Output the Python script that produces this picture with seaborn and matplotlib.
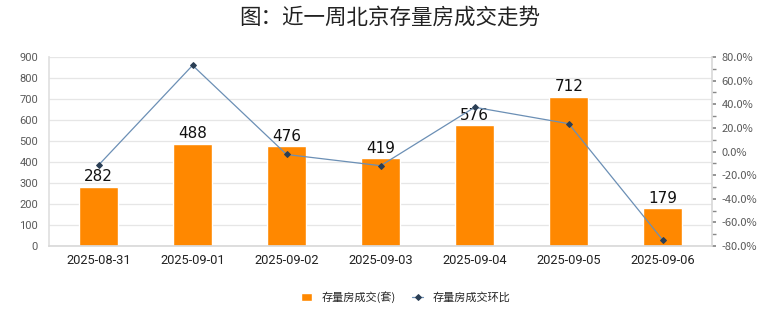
import matplotlib
matplotlib.use("Agg")
import matplotlib.pyplot as plt
import seaborn as sns
import pandas as pd
from matplotlib.ticker import FuncFormatter, MultipleLocator

dates = ["2025-08-31", "2025-09-01", "2025-09-02", "2025-09-03", "2025-09-04", "2025-09-05", "2025-09-06"]
volume = [282, 488, 476, 419, 576, 712, 179]
mom_pct = [-11.5, 73.0, -2.5, -12.0, 37.5, 23.6, -74.9]
bar_label = "存量房成交(套)"
line_label = "存量房成交环比"
title = "图：近一周北京存量房成交走势"

sns.set_theme(style="white")
plt.rcParams['font.family'] = ['Noto Sans CJK SC', 'DejaVu Sans']

df = pd.DataFrame({"date": dates, "volume": volume, "mom": mom_pct})

fig = plt.figure(figsize=(7.8, 3.28), dpi=100)
ax = fig.add_axes([0.063, 0.25, 0.85, 0.576])

sns.barplot(data=df, x="date", y="volume", color="#FF8800", saturation=1,
            width=0.41, ax=ax, label=bar_label, zorder=2)
if ax.get_legend() is not None:
    ax.get_legend().remove()
ax.set_ylim(0, 900)
ax.yaxis.set_major_locator(MultipleLocator(100))
ax.grid(axis="y", color="#e6e6e6", linewidth=0.9, zorder=0)
ax.set_axisbelow(True)
ax.set_xlabel("")
ax.set_ylabel("")
for s in ["top", "right"]:
    ax.spines[s].set_visible(False)
ax.spines["left"].set_color("#e0e0e0")
ax.spines["bottom"].set_color("#d9d9d9")
ax.tick_params(axis="y", labelsize=8, colors="#595959", length=0, pad=8)
ax.tick_params(axis="x", labelsize=9.3, colors="#222222", length=0, pad=6)
for lbl in ax.get_yticklabels():
    lbl.set_family(["Roboto", "DejaVu Sans"])
for lbl in ax.get_xticklabels():
    lbl.set_family(["Roboto", "DejaVu Sans"])
for p, v in zip(ax.patches, volume):
    ax.text(p.get_x() + p.get_width() / 2, v + 12, str(v), ha="center", va="bottom",
            fontsize=11, color="#111111", family=["DejaVu Sans"], zorder=5)

ax2 = ax.twinx()
sns.lineplot(data=df, x="date", y="mom", ax=ax2, color="#6b8fb5", linewidth=0.9,
             marker="D", markersize=3, markerfacecolor="#2b3f55", markeredgecolor="#2b3f55",
             label=line_label, legend=False, zorder=4)
ax2.set_ylim(-80, 80)
ax2.yaxis.set_major_locator(MultipleLocator(20))
ax2.yaxis.set_minor_locator(MultipleLocator(10))
ax2.yaxis.set_major_formatter(FuncFormatter(lambda v, p: f"{v:.1f}%"))
ax2.set_ylabel("")
ax2.set_xlabel("")
for s in ["top", "left", "bottom"]:
    ax2.spines[s].set_visible(False)
ax2.spines["right"].set_color("#d9d9d9")
ax2.tick_params(axis="y", which="both", direction="out", length=3, color="#888888",
                labelsize=8, labelcolor="#595959", pad=4)
ax2.grid(False)

fig.text(0.5, 0.945, title, fontsize=15.5, color="#222222", ha="center", va="center")

h1, l1 = ax.get_legend_handles_labels()
h2, l2 = ax2.get_legend_handles_labels()
fig.legend(h1[:1] + h2[:1], [bar_label, line_label], loc="center", bbox_to_anchor=(0.52, 0.095),
           ncol=2, frameon=False, fontsize=8, handlelength=1.0, handleheight=0.7,
           columnspacing=1.5)

fig.savefig("out.png", dpi=100)
